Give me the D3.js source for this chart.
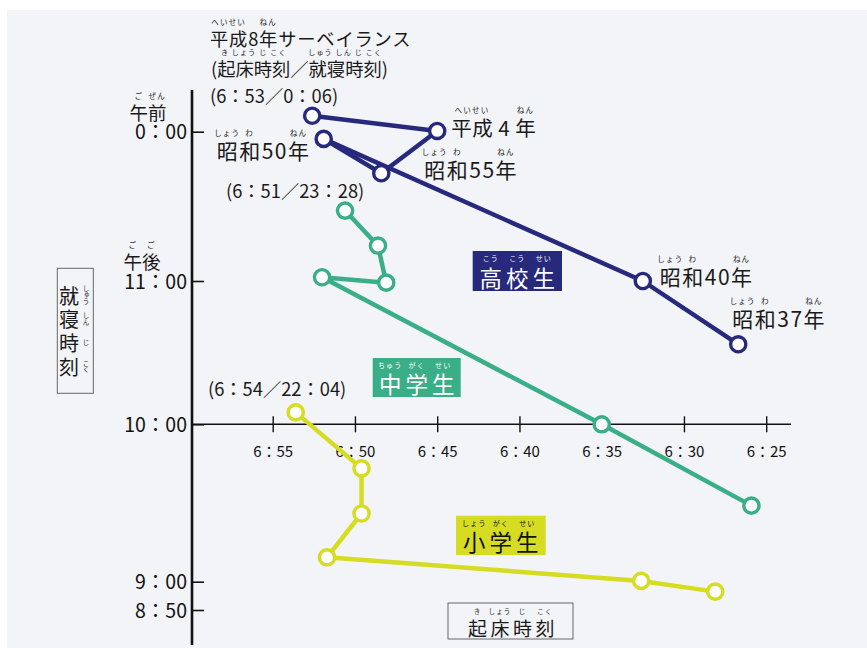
<!DOCTYPE html>
<html><head><meta charset="utf-8">
<script src="https://cdn.jsdelivr.net/npm/d3@7"></script>
<style>
html,body{margin:0;padding:0;background:#fff;}
svg{display:block;font-family:"Noto Sans CJK JP","Noto Sans",sans-serif;}
</style></head>
<body>
<svg id="c" width="867" height="648"></svg>
<script>
// ---- data ----
const years = ["昭和37年","昭和40年","昭和50年","昭和55年","平成4年","平成8年"];
// wake-up time: minutes after 6:00 ; bedtime: minutes after 20:00
const highWake = [26.7, 32.5, 51.9, 48.4, 45.0, 52.6];
const highBed  = [153.5, 180, 237.1, 223.3, 240.3, 246.4];
const juniorWake = [25.9, 35.0, 52.0, 48.1, 48.6, 50.6];
const juniorBed  = [89, 120, 181.5, 179.3, 194.2, 208.3];
const elemWake = [28.1, 32.6, 51.7, 49.6, 49.6, 53.6];
const elemBed  = [56.5, 60.3, 69.3, 86, 103.2, 125];
const wakeTicks = [55, 50, 45, 40, 35, 30, 25];
const wakeTickLabels = ["6：55","6：50","6：45","6：40","6：35","6：30","6：25"];
const bedTicks = [50, 60, 120, 180, 240];
const bedTickLabels = ["8：50","9：00","10：00","11：00","0：00"];

const colors = {high:"#27297c", junior:"#3aae86", elem:"#d5dc22"};

const svg = d3.select("#c");
svg.append("rect").attr("x",7).attr("y",10).attr("width",860).attr("height",638).attr("fill","#f3f4f7");

const x = d3.scaleLinear().domain([55, 25]).range([272.7, 766.2]);
const y = d3.scaleLinear().domain([50, 60, 120, 180, 240]).range([610, 581.7, 424.3, 281, 131.7]);

const FONT = '"Noto Sans CJK JP","Noto Sans",sans-serif';

// ruby helper: rubies = [[rubyText, charIndex, nChars], ...]
function rubyText(g, str, px, py, size, rubies, opt){
  opt = opt || {};
  const rs = opt.rsize || 7.5;
  const t = g.append("text").attr("x",px).attr("y",py).attr("font-size",size)
    .attr("fill",opt.fill||"#1a1a1a").attr("dominant-baseline","central")
    .attr("text-anchor",opt.anchor||"start").style("font-family",FONT).text(str);
  if(opt.ls) t.attr("letter-spacing",opt.ls);
  const node = t.node();
  (rubies||[]).forEach(r=>{
    const s = node.getStartPositionOfChar(r[1]).x;
    const w = node.getSubStringLength(r[1], r[2]) - (opt.ls||0);
    g.append("text").attr("x", s + w/2).attr("y", py - (size*0.57 + rs*0.78))
      .attr("font-size", rs).attr("text-anchor","middle")
      .attr("fill", opt.rfill||opt.fill||"#1a1a1a").attr("dominant-baseline","central")
      .attr("letter-spacing", 1.2).style("font-family",FONT).text(r[0]);
  });
  return t;
}

// ---- axes ----
const yAxis = d3.axisLeft(y).tickValues(bedTicks).tickFormat((d,i)=>bedTickLabels[i])
  .tickSizeInner(-12).tickSizeOuter(0).tickPadding(5);
const gy = svg.append("g").attr("transform","translate(192,0)").call(yAxis);
gy.select(".domain").remove();
gy.selectAll(".tick line").attr("stroke","#111").attr("stroke-width",1.6);
gy.selectAll(".tick text").attr("font-size",19.5).attr("fill","#111").style("font-family",FONT)
  .attr("dy","0.36em");
svg.append("line").attr("x1",192).attr("x2",192).attr("y1",90).attr("y2",645)
  .attr("stroke","#111").attr("stroke-width",2.6);

const xAxis = d3.axisBottom(x).tickValues(wakeTicks).tickFormat((d,i)=>wakeTickLabels[i])
  .tickSizeInner(8).tickSizeOuter(0).tickPadding(14);
const gx = svg.append("g").attr("transform",`translate(0,${y(120)})`).call(xAxis);
gx.select(".domain").remove();
gx.selectAll(".tick line").attr("y1",-8).attr("y2",8).attr("stroke","#111").attr("stroke-width",1.4);
gx.selectAll(".tick text").attr("font-size",15).attr("fill","#111").style("font-family",FONT);
svg.append("line").attr("x1",192).attr("x2",791).attr("y1",y(120)).attr("y2",y(120))
  .attr("stroke","#111").attr("stroke-width",1.5);

// 午前 / 午後
rubyText(svg, "午前", 148, 112, 18.5, [["ご",0,1],["ぜん",1,1]], {anchor:"middle"});
rubyText(svg, "午後", 142, 261, 18.5, [["ご",0,1],["ご",1,1]], {anchor:"middle"});

// ---- series ----
const series = [
  {key:"high", wake:highWake, bed:highBed},
  {key:"junior", wake:juniorWake, bed:juniorBed},
  {key:"elem", wake:elemWake, bed:elemBed}
];
const line = d3.line().x(d=>x(d.w)).y(d=>y(d.b));
series.forEach(s=>{
  const pts = years.map((yr,i)=>({yr, w:s.wake[i], b:s.bed[i]}));
  svg.append("path").datum(pts).attr("d",line).attr("fill","none")
    .attr("stroke",colors[s.key]).attr("stroke-width",4.5).attr("stroke-linejoin","round");
  svg.append("g").selectAll("circle").data(pts).join("circle")
    .attr("cx",d=>x(d.w)).attr("cy",d=>y(d.b)).attr("r",7.6)
    .attr("fill","#fff").attr("stroke",colors[s.key]).attr("stroke-width",3.4);
  s.pts = pts;
});

// year labels (high school)
const hp = series[0].pts;
const showa = [["しょう",0,1],["わ",1,1],["ねん",4,1]];
rubyText(svg, "昭和37年", x(hp[0].w)-6, y(hp[0].b)-26, 21, showa, {ls:1.5});
rubyText(svg, "昭和40年", x(hp[1].w)+17, y(hp[1].b)-5, 21, showa, {ls:1.5});
rubyText(svg, "昭和50年", x(hp[2].w)-107, y(hp[2].b)+11, 21, showa, {ls:1.5});
rubyText(svg, "昭和55年", x(hp[3].w)+43, y(hp[3].b)-4, 21, showa, {ls:1.5});
rubyText(svg, "平成 4 年", x(hp[4].w)+14, y(hp[4].b)-4, 20.5, [["へいせい",0,2],["ねん",5,1]], {ls:0.5});

// title
rubyText(svg, "平成8年サーベイランス", 210, 38, 18.3, [["へいせい",0,2],["ねん",3,1]], {ls:0.8});
rubyText(svg, "(起床時刻／就寝時刻)", 211, 68, 18.3, [["き しょう じ こく",1,4],["しゅう しん じ こく",6,4]], {rsize:7});
svg.append("text").attr("x",210).attr("y",95).attr("font-size",18.3).attr("fill","#1a1a1a")
  .attr("dominant-baseline","central").style("font-family",FONT).text("(6：53／0：06)");
svg.append("text").attr("x",226).attr("y",190).attr("font-size",18.3).attr("fill","#1a1a1a")
  .attr("dominant-baseline","central").style("font-family",FONT).text("(6：51／23：28)");
svg.append("text").attr("x",208).attr("y",388).attr("font-size",18.3).attr("fill","#1a1a1a")
  .attr("dominant-baseline","central").style("font-family",FONT).text("(6：54／22：04)");

// series name boxes
function nameBox(x0,y0,w,h,fill,txt,ruby,tcol){
  svg.append("rect").attr("x",x0).attr("y",y0).attr("width",w).attr("height",h).attr("fill",fill);
  rubyText(svg, txt, x0+w/2+2, y0+h*0.64, 22.5, [[ruby[0],0,1],[ruby[1],1,1],[ruby[2],2,1]],
    {anchor:"middle", fill:tcol, rsize:7, ls:4});
}
nameBox(472.7,251,89.3,40,colors.high,"高校生",["こう","こう","せい"],"#fff");
nameBox(372.7,358,88,39,colors.junior,"中学生",["ちゅう","がく","せい"],"#fff");
nameBox(456,515.7,89.7,39.3,colors.elem,"小学生",["しょう","がく","せい"],"#111");

// y axis title box (vertical)
svg.append("rect").attr("x",57.3).attr("y",268.3).attr("width",36).attr("height",125)
  .attr("fill","none").attr("stroke","#666").attr("stroke-width",1);
const vChars = ["就","寝","時","刻"], vRuby = ["しゅう","しん","じ","こく"];
vChars.forEach((c,i)=>{
  const cy = 295 + i*23.9;
  svg.append("text").attr("x",69).attr("y",cy).attr("font-size",20).attr("text-anchor","middle")
    .attr("dominant-baseline","central").attr("fill","#1a1a1a").style("font-family",FONT).text(c);
  svg.append("text").attr("x",86).attr("y",cy).attr("font-size",6.5).attr("writing-mode","tb")
    .attr("text-anchor","middle").attr("fill","#1a1a1a").style("font-family",FONT).text(vRuby[i]);
});

// x axis title box
svg.append("rect").attr("x",448).attr("y",603).attr("width",125).attr("height",36)
  .attr("fill","none").attr("stroke","#666").attr("stroke-width",1);
rubyText(svg, "起床時刻", 513, 627, 19, [["き",0,1],["しょう",1,1],["じ",2,1],["こく",3,1]],
  {anchor:"middle", ls:3.5, rsize:6.5});
</script>
</body></html>
